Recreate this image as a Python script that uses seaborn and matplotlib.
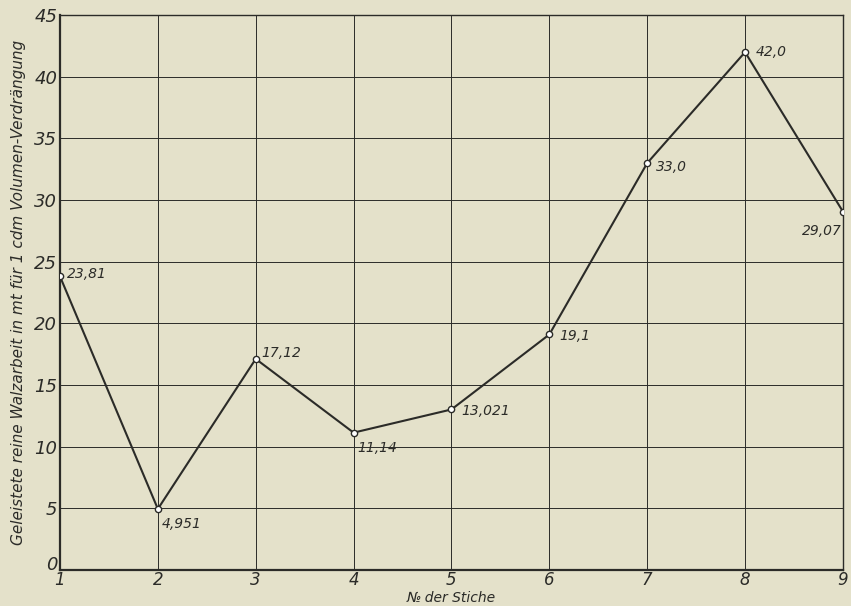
import matplotlib
matplotlib.use("Agg")
import matplotlib.pyplot as plt
import matplotlib.transforms as mtransforms
import seaborn as sns
import pandas as pd

stiche = [1, 2, 3, 4, 5, 6, 7, 8, 9]
arbeit = [23.81, 4.951, 17.12, 11.14, 13.021, 19.1, 33.0, 42.0, 29.07]
labels = ["23,81", "4,951", "17,12", "11,14", "13,021", "19,1", "33,0", "42,0", "29,07"]
y_ticks = [0, 5, 10, 15, 20, 25, 30, 35, 40, 45]

# label offsets in points (dx, dy, ha)
offsets = [(5, 2, "left"), (3, -11, "left"), (4, 4, "left"), (3, -11, "left"),
           (7, -1, "left"), (7, -1, "left"), (6, -3, "left"), (8, 0, "left"),
           (-1, -14, "right")]

BG = "#e4e1ca"
INK = "#2b2b28"

df = pd.DataFrame({"stich": stiche, "arbeit": arbeit})

sns.set_style("white")
plt.rcParams["font.family"] = ["DejaVu Sans"]

fig = plt.figure(figsize=(8.51, 6.06), dpi=100, facecolor=BG)
ax = fig.add_axes([0.0705, 0.0594, 0.92, 0.9156])
ax.set_facecolor(BG)

sns.lineplot(data=df, x="stich", y="arbeit", ax=ax, color=INK, lw=1.5,
             marker="o", markersize=4.5, markerfacecolor="white",
             markeredgecolor=INK, markeredgewidth=1.0, zorder=3)

for x, y, t, (dx, dy, ha) in zip(stiche, arbeit, labels, offsets):
    ax.annotate(t, (x, y), xytext=(dx, dy), textcoords="offset points",
                ha=ha, va="center", fontsize=10, style="italic", color=INK)

ax.set_xlim(1, 9)
ax.set_ylim(0, 45)
ax.set_xticks(stiche)
ax.set_yticks(y_ticks)
ax.grid(True, color=INK, lw=0.7)
for s in ax.spines.values():
    s.set_color(INK)
    s.set_linewidth(1.0)
ax.spines["bottom"].set_linewidth(1.6)
ax.spines["left"].set_linewidth(1.6)

ax.tick_params(length=0, labelsize=13, colors=INK, pad=2)
ax.tick_params(axis="x", labelsize=12, pad=1)
for lbl in ax.get_xticklabels() + ax.get_yticklabels():
    lbl.set_style("italic")

# lift the "0" so it sits clear of the "1" in the corner
lift = mtransforms.ScaledTranslation(0, 5 / 72, fig.dpi_scale_trans)
zero = ax.get_yticklabels()[0]
zero.set_transform(zero.get_transform() + lift)

ax.set_xlabel("№ der Stiche", fontsize=10, style="italic", color=INK, labelpad=1)
ax.set_ylabel("Geleistete reine Walzarbeit in mt für 1 cdm Volumen-Verdrängung",
              fontsize=11, style="italic", color=INK, labelpad=6)

fig.savefig("out.png", dpi=100, facecolor=BG)
